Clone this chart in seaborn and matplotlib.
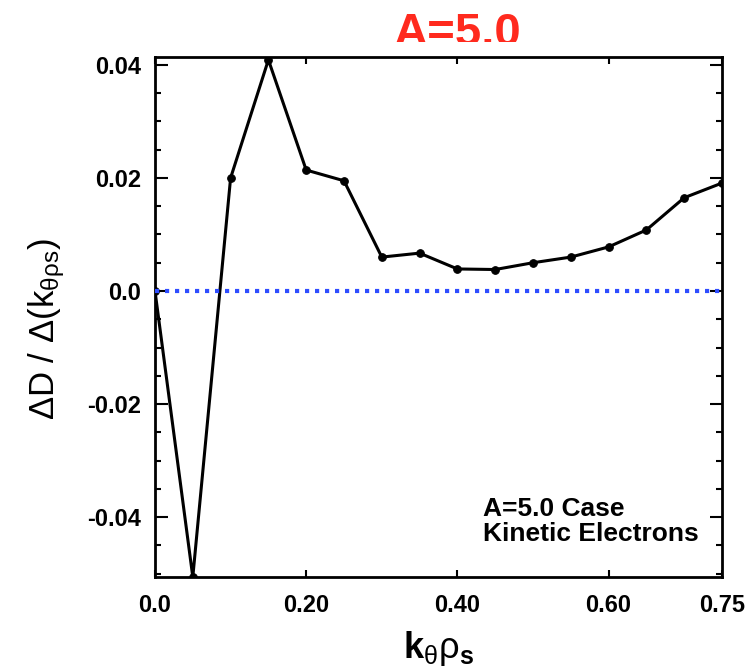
import numpy as np
import pandas as pd
import matplotlib
matplotlib.use('Agg')
import matplotlib.pyplot as plt
import seaborn as sns
from matplotlib.transforms import Bbox
from matplotlib.ticker import MultipleLocator

# ---- data ----
k_rho = [0.00, 0.05, 0.10, 0.15, 0.20, 0.25, 0.30, 0.35, 0.40, 0.45,
         0.50, 0.55, 0.60, 0.65, 0.70, 0.75]
dD_dk = [0.0, -0.0506, 0.0200, 0.0409, 0.0214, 0.0195, 0.0060, 0.0067, 0.0039, 0.0038,
         0.0050, 0.0060, 0.0078, 0.0108, 0.0165, 0.0191]
x_ticks = [0.0, 0.20, 0.40, 0.60, 0.75]
x_tick_labels = ['0.0', '0.20', '0.40', '0.60', '0.75']
y_ticks = [-0.04, -0.02, 0.0, 0.02, 0.04]
y_tick_labels = ['-0.04', '-0.02', '0.0', '0.02', '0.04']
title_text = 'A=5.0'
note_text = 'A=5.0 Case\nKinetic Electrons'

sns.set_style('ticks')
plt.rcParams['font.family'] = ['Liberation Sans', 'DejaVu Sans']
plt.rcParams['mathtext.fontset'] = 'custom'
plt.rcParams['mathtext.rm'] = 'Liberation Sans'
plt.rcParams['mathtext.it'] = 'Liberation Sans'
plt.rcParams['mathtext.bf'] = 'Liberation Sans:bold'
plt.rcParams['text.color'] = 'black'
plt.rcParams['axes.labelcolor'] = 'black'
plt.rcParams['xtick.color'] = 'black'
plt.rcParams['ytick.color'] = 'black'

fig = plt.figure(figsize=(7.48, 6.69), dpi=100)
W, H = 748, 669
ax = fig.add_axes([155 / W, 1 - 577 / H, (722 - 155) / W, (577 - 57) / H])

df = pd.DataFrame({'k': k_rho, 'd': dD_dk})
sns.lineplot(data=df, x='k', y='d', ax=ax, color='black', lw=2.2,
             marker='o', markersize=5.5, markeredgecolor='black', zorder=3)
ax.axhline(0, color='#2f4dff', lw=3, ls=(0, (1, 1.4)), zorder=4)

ax.set_xlim(0, 0.75)
ax.set_ylim(-0.0506, 0.0414)
ax.set_xticks(x_ticks, x_tick_labels)
ax.set_yticks(y_ticks, y_tick_labels)
ax.yaxis.set_minor_locator(MultipleLocator(0.005))
ax.tick_params(which='both', direction='in', top=True, right=True, width=1.5)
ax.tick_params(axis='y', which='major', length=9, pad=10)
ax.tick_params(axis='y', which='minor', length=4)
ax.tick_params(axis='x', which='major', length=5, pad=12)
for lab in ax.get_xticklabels() + ax.get_yticklabels():
    lab.set_fontsize(17)
    lab.set_fontweight('bold')
    lab.set_color('black')
for sp in ax.spines.values():
    sp.set_linewidth(2)
    sp.set_color('black')

ax.set_xlabel(r'$\mathbf{k}_{\theta}\rho_{\mathbf{s}}$', fontsize=26, color='black')
ax.xaxis.set_label_coords(0.5, -0.10)
ax.set_ylabel(r'$\Delta\mathrm{D}\ /\ \Delta(\mathrm{k}_{\theta\rho\mathrm{s}})$', fontsize=25,
              color='black')
ax.yaxis.set_label_coords(-0.155, 0.477)

ax.text((483 - 155) / 567, (577 - 546) / 520, note_text, transform=ax.transAxes,
        fontsize=19, fontweight='bold', ha='left', va='bottom', linespacing=1.05,
        color='black')

t = fig.text(458 / W, 1 - 46 / H, title_text, color='#ff2a1e', fontsize=34,
             fontweight='bold', ha='center', va='baseline')
t.set_clip_on(True)
t.set_clip_box(Bbox.from_extents(0, H - 42, W, H))

fig.savefig('out.png', dpi=100)
